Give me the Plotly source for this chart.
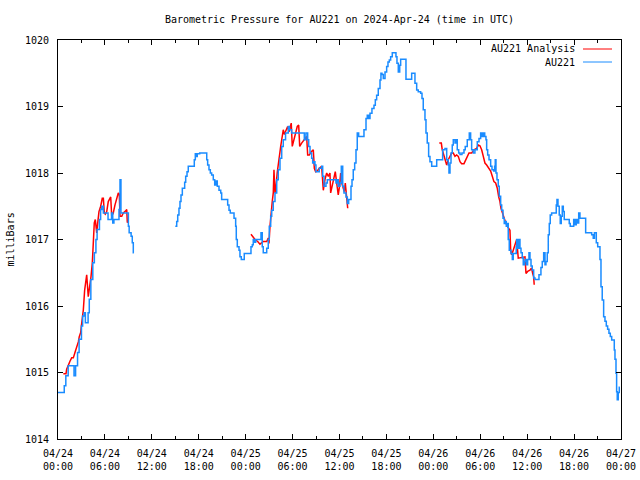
import pandas as pd
import plotly.graph_objects as go

BASE = pd.Timestamp("2024-04-24 00:00")

# ---- AU221 (observations), hours since 2024-04-24 00:00 UTC ----
au_seg1_hours = [0.0, 0.8, 1.0, 1.3, 1.9, 2.05, 2.25, 2.5, 2.7, 3.0, 3.15, 3.35, 3.5, 3.85, 4.0, 4.2,
                 4.45, 4.65, 4.85, 5.0, 5.3, 5.45, 5.6, 5.8, 6.0, 6.4, 6.85, 7.0, 7.15, 7.7, 7.8, 7.93,
                 8.05, 8.85, 9.0, 9.1, 9.35, 9.5, 9.63, 9.7]
au_seg1_mb = [1014.7, 1014.8, 1014.95, 1015.1, 1015.1, 1014.95, 1015.1, 1015.3, 1015.5, 1015.7, 1015.85,
              1015.9, 1015.75, 1015.9, 1016.1, 1016.4, 1016.65, 1016.8, 1017.0, 1017.15, 1017.3, 1017.45,
              1017.5, 1017.4, 1017.4, 1017.3, 1017.4, 1017.25, 1017.3, 1017.3, 1017.45, 1017.9, 1017.4,
              1017.4, 1017.2, 1017.1, 1017.05, 1016.95, 1016.8, 1016.8]

au_seg2_hours = [15.0, 15.18, 15.31, 15.47, 15.6, 15.73, 15.9, 16.2, 16.33, 16.5, 16.66, 17.43, 17.56, 17.69,
                 17.81, 18.12, 19.02, 19.14, 19.31, 19.48, 19.65, 19.86, 20.04, 20.2, 20.37, 20.59, 20.81,
                 20.93, 21.7, 21.87, 22.03, 22.51, 22.72, 22.8, 22.93, 23.15, 23.27, 23.44, 23.82, 24.68,
                 24.85, 24.97, 25.1, 25.28, 25.96, 26.12, 26.25, 26.69, 26.89, 27.02, 27.2, 27.33, 27.53,
                 27.75, 27.97, 28.17, 28.39, 28.61, 28.81, 29.1, 29.45, 29.6, 29.88, 31.5, 31.71, 31.93,
                 32.06, 32.23, 32.44, 32.57, 32.74, 32.86, 32.99, 33.41, 33.72, 33.85, 34.02, 34.27, 34.44,
                 35.55, 35.68, 35.84, 36.06, 36.23, 36.41, 36.57, 36.83, 37.0, 37.17, 37.47, 37.6, 37.76,
                 37.94, 38.11, 38.27, 38.45, 39.13, 39.39, 39.55, 39.73, 39.9, 40.15, 40.41, 40.58, 40.75,
                 40.96, 41.18, 41.3, 41.43, 41.6, 41.82, 42.03, 42.2, 42.37, 42.54, 42.75, 43.22, 43.35,
                 43.52, 43.7, 43.82, 44.5, 45.23, 45.65, 45.87, 46.07, 46.38, 46.55, 46.71, 46.93, 47.06,
                 47.22, 47.4, 47.57, 47.79, 48.43, 49.19, 49.49, 49.71, 49.91, 50.0, 50.13, 50.26, 50.42,
                 50.55, 50.77, 50.9, 51.06, 51.24, 51.41, 51.66, 51.92, 52.08, 52.34, 52.6, 52.77, 52.9,
                 53.11, 53.32, 53.62, 53.84, 54.05, 54.22, 54.39, 54.57, 54.73, 54.82, 54.95, 55.12, 55.33,
                 55.5, 55.72, 55.84, 55.92, 56.01, 56.14, 56.3, 56.43, 56.61, 56.74, 56.91, 57.07, 57.2,
                 57.33, 57.46, 57.58, 57.71, 57.93, 58.1, 58.22, 58.6, 58.66, 58.79, 58.95, 59.08, 59.21,
                 59.37, 59.5, 59.63, 59.76, 59.88, 60.06, 60.23, 60.36, 60.49, 60.65, 60.83, 61.0, 61.51,
                 61.76, 61.93, 62.11, 62.28, 62.4, 62.57, 62.7, 62.83, 62.95, 63.13, 63.72, 63.81, 63.94,
                 64.1, 64.23, 64.36, 64.49, 64.62, 64.74, 65.38, 65.51, 65.95, 66.11, 66.28, 66.45, 66.59,
                 66.75, 67.48, 68.25, 68.45, 68.6, 68.84, 69.02, 69.31, 69.44, 69.6, 69.78, 69.95, 70.12,
                 70.29, 70.46, 70.63, 70.81, 71.14, 71.23, 71.36, 71.44, 71.52, 71.65, 71.78, 71.85]
au_seg2_mb = [1017.2, 1017.27, 1017.37, 1017.47, 1017.57, 1017.67, 1017.77, 1017.86, 1017.95, 1018.02, 1018.1,
              1018.2, 1018.29, 1018.25, 1018.29, 1018.3, 1018.2, 1018.12, 1018.05, 1018.0, 1017.97, 1017.9,
              1017.82, 1017.88, 1017.8, 1017.74, 1017.7, 1017.6, 1017.52, 1017.44, 1017.4, 1017.32, 1017.2,
              1017.0, 1016.89, 1016.84, 1016.74, 1016.7, 1016.79, 1016.89, 1016.92, 1017.0, 1016.96, 1017.0,
              1017.1, 1016.89, 1016.8, 1016.87, 1017.0, 1017.2, 1017.35, 1017.44, 1017.57, 1017.7, 1017.9,
              1018.05, 1018.22, 1018.4, 1018.5, 1018.6, 1018.7, 1018.65, 1018.6, 1018.5, 1018.6, 1018.5,
              1018.4, 1018.3, 1018.22, 1018.15, 1018.17, 1018.12, 1018.02, 1018.07, 1018.1, 1017.95, 1017.8,
              1017.85, 1017.9, 1017.85, 1017.9, 1017.8, 1017.85, 1018.1, 1017.8, 1017.7, 1017.64, 1017.54,
              1017.6, 1017.8, 1017.9, 1018.05, 1018.15, 1018.35, 1018.6, 1018.55, 1018.65, 1018.82, 1018.87,
              1018.82, 1018.9, 1018.97, 1019.02, 1019.1, 1019.17, 1019.27, 1019.4, 1019.5, 1019.48, 1019.42,
              1019.52, 1019.6, 1019.67, 1019.7, 1019.75, 1019.81, 1019.75, 1019.65, 1019.52, 1019.62, 1019.71,
              1019.41, 1019.5, 1019.35, 1019.25, 1019.22, 1019.2, 1019.12, 1018.95, 1018.8, 1018.6, 1018.45,
              1018.25, 1018.17, 1018.1, 1018.2, 1018.35, 1018.37, 1018.2, 1018.12, 1018.0, 1018.15, 1018.3,
              1018.42, 1018.5, 1018.45, 1018.5, 1018.35, 1018.3, 1018.28, 1018.3, 1018.35, 1018.4, 1018.5,
              1018.6, 1018.5, 1018.35, 1018.3, 1018.35, 1018.47, 1018.52, 1018.6, 1018.55, 1018.6, 1018.55,
              1018.5, 1018.35, 1018.27, 1018.2, 1018.1, 1018.05, 1018.03, 1018.1, 1018.2, 1018.0, 1017.9,
              1017.8, 1017.65, 1017.52, 1017.44, 1017.32, 1017.24, 1017.27, 1017.2, 1017.24, 1017.0, 1016.84,
              1016.79, 1016.7, 1016.79, 1016.89, 1017.0, 1016.87, 1017.0, 1016.87, 1016.8, 1016.72, 1016.62,
              1016.67, 1016.7, 1016.62, 1016.7, 1016.8, 1016.7, 1016.6, 1016.54, 1016.42, 1016.4, 1016.47,
              1016.58, 1016.67, 1016.8, 1016.62, 1016.67, 1016.8, 1017.07, 1017.24, 1017.37, 1017.4, 1017.52,
              1017.6, 1017.5, 1017.37, 1017.24, 1017.35, 1017.5, 1017.42, 1017.3, 1017.24, 1017.2, 1017.3,
              1017.22, 1017.3, 1017.25, 1017.4, 1017.32, 1017.1, 1017.07, 1017.02, 1017.1, 1016.95, 1016.89,
              1016.7, 1016.29, 1016.09, 1015.84, 1015.77, 1015.7, 1015.65, 1015.59, 1015.54, 1015.49, 1015.34,
              1015.2, 1014.99, 1014.71, 1014.59, 1014.7, 1014.78, 1014.78]

# ---- AU221 Analysis ----
an_seg1_hours = [0.68, 1.02, 1.11, 1.32, 1.53, 1.75, 1.96, 2.17, 2.39, 2.6, 2.72, 2.9, 3.03, 3.16, 3.24, 3.41,
                 3.54, 3.67, 3.87, 4.09, 4.22, 4.39, 4.51, 4.64, 4.77, 4.95, 5.08, 5.24, 5.46, 5.66, 5.8,
                 5.92, 6.05, 6.23, 6.43, 6.74, 6.87, 7.07, 7.29, 7.5, 7.71, 7.84, 7.93, 8.15, 8.35, 8.66,
                 8.79, 8.86, 8.9]
an_seg1_mb = [1014.98, 1014.98, 1015.05, 1015.12, 1015.17, 1015.22, 1015.22, 1015.3, 1015.37, 1015.46, 1015.54,
              1015.6, 1015.74, 1015.85, 1015.94, 1016.24, 1016.4, 1016.47, 1016.14, 1016.3, 1016.44, 1016.65,
              1016.87, 1017.25, 1017.3, 1017.1, 1017.25, 1017.42, 1017.5, 1017.62, 1017.62, 1017.4, 1017.38,
              1017.42, 1017.57, 1017.64, 1017.35, 1017.4, 1017.52, 1017.62, 1017.7, 1017.68, 1017.35,
              1017.35, 1017.4, 1017.43, 1017.45, 1017.27, 1017.25]

an_seg2_hours = [24.68, 24.97, 25.19, 25.54, 25.83, 26.25, 26.69, 26.89, 26.98, 27.11, 27.24, 27.4, 27.53,
                 27.62, 27.75, 27.88, 28.03, 28.17, 28.3, 28.48, 28.61, 28.81, 28.94, 29.16, 29.37, 29.54,
                 29.71, 29.83, 29.96, 30.18, 30.4, 30.6, 30.78, 30.91, 31.16, 31.46, 31.8, 31.93, 32.14,
                 32.39, 32.65, 32.78, 32.95, 33.16, 33.41, 33.72, 33.93, 34.14, 34.36, 34.57, 34.78, 34.87,
                 35.13, 35.29, 35.46, 35.64, 35.84, 36.0, 36.15, 36.28, 36.41, 36.61, 36.74, 36.92, 37.05]
an_seg2_mb = [1017.08, 1017.04, 1017.0, 1016.97, 1016.93, 1016.97, 1016.97, 1017.02, 1016.94, 1017.2, 1017.4,
              1017.57, 1017.7, 1018.05, 1017.7, 1017.8, 1018.0, 1018.15, 1018.25, 1018.4, 1018.5, 1018.65,
              1018.58, 1018.63, 1018.7, 1018.62, 1018.7, 1018.75, 1018.4, 1018.5, 1018.62, 1018.7, 1018.72,
              1018.4, 1018.45, 1018.5, 1018.55, 1018.27, 1018.27, 1018.32, 1018.35, 1018.07, 1018.02, 1018.03,
              1018.07, 1018.1, 1017.74, 1017.9, 1018.0, 1017.95, 1018.0, 1017.7, 1017.85, 1017.9, 1018.02,
              1017.85, 1017.67, 1017.8, 1018.0, 1017.85, 1017.8, 1017.72, 1017.85, 1017.67, 1017.47]

an_seg3_hours = [48.76, 49.02, 49.14, 49.36, 49.53, 49.71, 49.91, 50.13, 50.35, 50.55, 50.77, 50.98, 51.19,
                 51.41, 51.62, 51.92, 52.14, 52.34, 52.56, 52.9, 53.2, 53.54, 53.75, 53.96, 54.18, 54.39,
                 54.6, 54.82, 55.15, 55.33, 55.54, 55.75, 55.97, 56.18, 56.36, 56.52, 56.65, 56.82, 57.03,
                 57.2, 57.46, 57.8, 57.89, 58.02, 58.22, 58.44, 58.66, 58.86, 59.5, 59.72, 59.85, 60.06,
                 60.36, 60.57, 60.7, 60.83, 60.9]
an_seg3_mb = [1018.45, 1018.45, 1018.35, 1018.25, 1018.17, 1018.12, 1018.2, 1018.25, 1018.3, 1018.3, 1018.25,
              1018.27, 1018.25, 1018.17, 1018.14, 1018.14, 1018.2, 1018.25, 1018.3, 1018.3, 1018.35, 1018.37,
              1018.42, 1018.41, 1018.35, 1018.25, 1018.15, 1018.12, 1018.07, 1018.03, 1017.95, 1017.87,
              1017.85, 1017.77, 1017.64, 1017.57, 1017.47, 1017.4, 1017.35, 1017.27, 1017.2, 1017.14,
              1016.84, 1016.77, 1016.84, 1016.92, 1017.0, 1016.72, 1016.74, 1016.74, 1016.49, 1016.52,
              1016.54, 1016.57, 1016.49, 1016.44, 1016.32]

# ---- axis ticks ----
x_tick_hours = [0, 6, 12, 18, 24, 30, 36, 42, 48, 54, 60, 66, 72]
x_tick_labels = ["04/24<br>00:00", "04/24<br>06:00", "04/24<br>12:00", "04/24<br>18:00",
                 "04/25<br>00:00", "04/25<br>06:00", "04/25<br>12:00", "04/25<br>18:00",
                 "04/26<br>00:00", "04/26<br>06:00", "04/26<br>12:00", "04/26<br>18:00",
                 "04/27<br>00:00"]
y_ticks = [1014, 1015, 1016, 1017, 1018, 1019, 1020]

TITLE = "Barometric Pressure for AU221 on 2024-Apr-24 (time in UTC)"
Y_LABEL = "milliBars"
NAME_ANALYSIS = "AU221 Analysis"
NAME_OBS = "AU221"

RED = "#ff0000"
BLUE = "#1a8cff"
FONT = "DejaVu Sans Mono"


def to_time(hours):
    return [None if h is None else BASE + pd.Timedelta(hours=h) for h in hours]


def join(*segs):
    out = []
    for i, s in enumerate(segs):
        if i:
            out.append(None)
        out.extend(s)
    return out


an_x = to_time(join(an_seg1_hours, an_seg2_hours, an_seg3_hours))
an_y = join(an_seg1_mb, an_seg2_mb, an_seg3_mb)
au_x = to_time(join(au_seg1_hours, au_seg2_hours))
au_y = join(au_seg1_mb, au_seg2_mb)

fig = go.Figure()
fig.add_trace(go.Scatter(x=an_x, y=an_y, mode="lines", name=NAME_ANALYSIS,
                         line=dict(color=RED, width=1.5), connectgaps=False, showlegend=False))
fig.add_trace(go.Scatter(x=au_x, y=au_y, mode="lines", name=NAME_OBS,
                         line=dict(color=BLUE, width=1.5, shape="hv"), connectgaps=False, showlegend=False))

xt = [BASE + pd.Timedelta(hours=h) for h in x_tick_hours]

fig.update_layout(
    width=640, height=480,
    margin=dict(l=58, r=19, t=40, b=41),
    paper_bgcolor="white", plot_bgcolor="white",
    font=dict(family=FONT, size=10, color="black"),
    title=dict(text=TITLE, x=0.5, xref="paper", xanchor="center", y=1 - 19 / 480, yanchor="middle",
               font=dict(family=FONT, size=10, color="black")),
    xaxis=dict(range=[xt[0], xt[-1]], tickmode="array", tickvals=xt, ticktext=x_tick_labels,
               automargin=False, ticklabelstandoff=5,
               showgrid=False, zeroline=False, showline=True, linecolor="black", linewidth=1,
               mirror="ticks", ticks="inside", ticklen=5, tickcolor="black",
               minor=dict(ticks="inside", ticklen=3, tickcolor="black", dtick=3 * 3600 * 1000),
               tickfont=dict(family=FONT, size=10)),
    yaxis=dict(range=[1014, 1020], tickmode="array", tickvals=y_ticks,
               automargin=False, ticklabelstandoff=6,
               showgrid=False, zeroline=False, showline=True, linecolor="black", linewidth=1,
               mirror="ticks", ticks="inside", ticklen=5, tickcolor="black",
               tickfont=dict(family=FONT, size=10)),
    annotations=[
        dict(text=Y_LABEL, xref="paper", yref="paper", x=0, y=0.5, xshift=-48, textangle=-90,
             showarrow=False, xanchor="center", yanchor="middle", font=dict(family=FONT, size=10)),
        dict(text=NAME_ANALYSIS, xref="paper", yref="paper", x=(577 - 58) / 563, y=1 - 9 / 399,
             showarrow=False, xanchor="right", yanchor="middle", font=dict(family=FONT, size=10)),
        dict(text=NAME_OBS, xref="paper", yref="paper", x=(577 - 58) / 563, y=1 - 22 / 399,
             showarrow=False, xanchor="right", yanchor="middle", font=dict(family=FONT, size=10)),
    ],
    shapes=[
        dict(type="line", xref="paper", yref="paper", x0=(583 - 58) / 563, x1=(612 - 58) / 563,
             y0=1 - 9 / 399, y1=1 - 9 / 399, line=dict(color=RED, width=1)),
        dict(type="line", xref="paper", yref="paper", x0=(583 - 58) / 563, x1=(612 - 58) / 563,
             y0=1 - 22 / 399, y1=1 - 22 / 399, line=dict(color=BLUE, width=1)),
    ],
)

fig.write_html("out.html", config={"displayModeBar": False},
               post_script="document.body.style.margin='0px';")
